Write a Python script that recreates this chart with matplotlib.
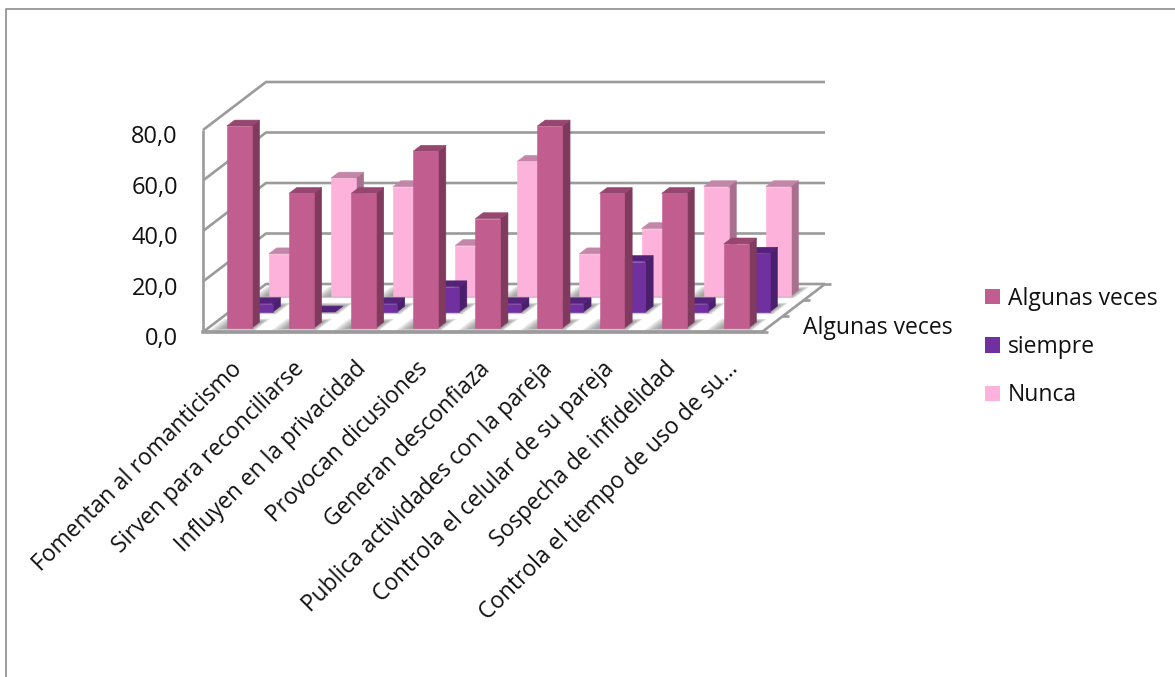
import numpy as np
import matplotlib

matplotlib.use("Agg")
import matplotlib.pyplot as plt
from matplotlib.lines import Line2D
from matplotlib.patches import Patch, Polygon
from matplotlib.transforms import ScaledTranslation

plt.rcParams["font.family"] = ["Open Sans", "DejaVu Sans"]

categories = [
    "Fomentan al romanticismo",
    "Sirven para reconciliarse",
    "Influyen en la privacidad",
    "Provocan dicusiones",
    "Generan desconfiaza",
    "Publica actividades con la pareja",
    "Controla el celular de su pareja",
    "Sospecha de infidelidad",
    "Controla el tiempo de uso de su…",
]
algunas_veces = [80.0, 53.3, 53.3, 70.0, 43.3, 80.0, 53.3, 53.3, 33.3]
siempre = [3.3, 0.0, 3.3, 10.0, 3.3, 3.3, 20.0, 3.3, 23.3]
nunca = [16.7, 46.7, 43.3, 20.0, 53.3, 16.7, 26.7, 43.3, 43.3]
y_ticks = [0, 20, 40, 60, 80]
y_labels = ["0,0", "20,0", "40,0", "60,0", "80,0"]

W, H = 1175, 677
GRID = "#9b9b9b"

# oblique view: one series step of depth moves 21px right and 16px up
DX = 21 / (559 / 9)  # categories per depth unit
DY = 16 / (202 / 80)  # value units per depth unit


def proj(cat, val, depth):
    return cat + depth * DX, val + depth * DY


def face(ax, corners, color, z):
    ax.add_patch(Polygon([proj(*c) for c in corners], closed=True, fc=color,
                         ec=color, lw=0.4, zorder=z, clip_on=False))


def shadow(ax, i, d, z):
    # soft grey blur on the floor around the bar foot
    x0, x1 = i + 0.3, i + 0.7
    d0, d1 = d + 0.25, d + 0.62
    for k in range(1, 8):
        g = k * 0.03
        corners = [(x0 - 1.1 * g, 0, d0 - 0.7 * g), (x1 + 0.5 * g, 0, d0 - 0.7 * g),
                   (x1 + 0.5 * g, 0, d1 + g), (x0 - 1.1 * g, 0, d1 + g)]
        ax.add_patch(Polygon([proj(*c) for c in corners], closed=True, fc="#606060",
                             ec="none", alpha=0.12, zorder=z, clip_on=False))


def bar3d(ax, i, d, val, colors, z):
    x0, x1 = i + 0.3, i + 0.7
    d0, d1 = d + 0.25, d + 0.62
    face(ax, [(x1, 0, d0), (x1, 0, d1), (x1, val, d1), (x1, val, d0)], colors[1], z)
    face(ax, [(x0, val, d0), (x1, val, d0), (x1, val, d1), (x0, val, d1)], colors[2], z)
    if val > 0:
        face(ax, [(x0, 0, d0), (x1, 0, d0), (x1, val, d0), (x0, val, d0)], colors[0], z)


fig = plt.figure(figsize=(W / 100, H / 100), dpi=100)
ax = fig.add_axes([203 / W, (H - 332) / H, 559 / W, 202 / H])
ax.set_xlim(0, 9)
ax.set_ylim(0, 80)
for s in ax.spines.values():
    s.set_visible(False)
ax.patch.set_visible(False)

n = len(categories)
ax.set_yticks(y_ticks, y_labels, fontsize=17, color="#111111")
ax.set_xticks(np.arange(n) + 0.43, categories, fontsize=16.4, rotation=45, ha="right",
              va="top", rotation_mode="anchor", color="#111111")
ax.tick_params(axis="y", length=0, pad=18)
ax.tick_params(axis="x", length=0, pad=18)
# labels sit a little under their grid lines
down = ScaledTranslation(0, -3 / 72, fig.dpi_scale_trans)
for lbl in ax.get_yticklabels():
    lbl.set_transform(lbl.get_transform() + down)

line = dict(color=GRID, lw=1.9, zorder=1, clip_on=False, solid_capstyle="butt")

# walls: grid lines run along the left wall, then along the back wall
for v in y_ticks:
    p0 = proj(0, v, 0)
    p1 = proj(0, v, 3)
    p2 = proj(n, v, 3)
    ax.plot([p0[0], p1[0], p2[0]], [p0[1], p1[1], p2[1]], **line)
ax.plot([0, 0], [0, 80], **line)

# floor outline and its depth ticks
pts = [proj(0, 0, 0), proj(n, 0, 0), proj(n, 0, 3)]
ax.plot(*zip(*pts), **line)
ax.plot([0, n], [0, 0], color=GRID, lw=2.6, zorder=1, clip_on=False)
for d in range(4):
    px, py = proj(n, 0, d)
    ax.plot([px - 0.02, px + 0.1], [py, py], **line)

series = [
    (nunca, 2, ("#FDB2DB", "#A86F8F", "#C486A8")),
    (siempre, 1, ("#7030A0", "#4A1F6B", "#54227A")),
    (algunas_veces, 0, ("#C25D8F", "#7F3A5E", "#96466F")),
]
z = 2
for vals, d, colors in series:
    for i in range(n):
        shadow(ax, i, d, z)
    z += 1
    for i, v in enumerate(vals):
        bar3d(ax, i, d, v, colors, z)
        z += 1

# only the front series gets a depth label
ax.annotate("Algunas veces", proj(n, 0, 0.5), xytext=(22, -3), textcoords="offset points",
            fontsize=16.5, va="center", ha="left", color="#111111", annotation_clip=False)

handles = [Patch(fc="#C25D8F", label="Algunas veces"), Patch(fc="#7030A0", label="siempre"),
           Patch(fc="#FDB2DB", label="Nunca")]
fig.legend(handles=handles, loc="center left", bbox_to_anchor=(985 / W, (H - 347) / H),
           frameon=False, fontsize=16.5, handlelength=0.66, handleheight=0.66,
           handletextpad=0.35, labelspacing=1.06, borderpad=0, borderaxespad=0,
           labelcolor="#111111")

# chart area border
fig.add_artist(Line2D([6 / W, 6 / W, 1], [0, (H - 9) / H, (H - 9) / H], color="#8c8c8c", lw=1.2))

fig.savefig("out.png", dpi=100)
